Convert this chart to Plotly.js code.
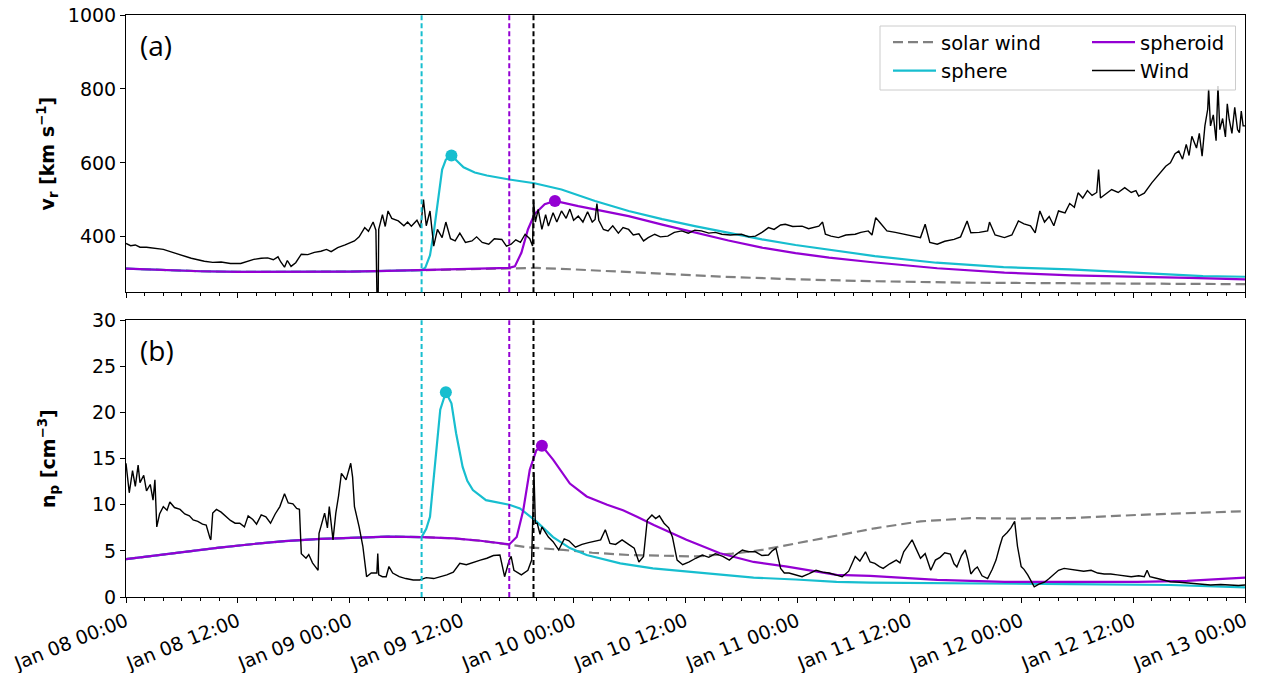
<!DOCTYPE html>
<html>
<head>
<meta charset="utf-8">
<script src="https://cdn.plot.ly/plotly-3.0.1.min.js"></script>
<style>html,body{margin:0;padding:0;background:#fff;}#chart{width:1268px;height:673px;}</style>
</head>
<body>
<div id="chart"></div>
<script>
// ---- hours after Jan 08 00:00 ----
var windVHours = [0,0.5,1,1.5,2.2,3,4,5,5.9,7,8.4,9.3,10.2,11.2,12.3,13,13.7,14.5,15.2,15.8,16.3,16.6,17,17.3,17.7,18.2,18.8,19.5,20.2,20.9,21.5,22,22.7,23.5,24.5,25,25.6,26,26.5,26.8,27.0,27.1,27.5,27.8,28.1,28.5,29.2,29.8,30.2,30.6,31.2,31.6,31.9,32.2,32.6,33.0,33.4,33.9,34.3,34.8,35.3,35.8,36.4,37.1,37.6,38.2,38.9,39.5,40.3,40.8,41.3,41.8,42.3,42.8,43.3,43.6,43.7,43.9,44.2,44.6,45.0,45.3,45.8,46.2,46.7,47.2,47.6,48.0,48.5,49.0,49.5,50.0,50.3,50.5,50.7,51.2,51.7,52.2,52.8,53.3,53.9,54.4,55.0,55.5,56.0,56.7,57.3,58.1,58.8,59.6,60.3,61.0,61.7,62.5,63.2,63.9,64.8,66.0,66.8,67.5,68.2,68.9,69.5,70.2,70.7,71.5,72.5,73.2,74.3,74.7,75.0,75.6,76.4,77.2,78.2,78.8,79.6,80.0,80.4,80.8,81.6,82.5,83.4,84.3,85.2,85.7,86.2,87.0,87.8,88.8,89.5,90.2,90.6,91.5,92.4,92.6,93.2,94.2,95.0,95.7,96.3,97.0,97.5,98.0,98.5,99.0,99.5,100.0,100.7,101.2,101.7,102.1,102.6,103.1,103.6,104.1,104.3,104.5,105.0,105.7,106.4,107.1,107.8,108.3,108.6,109.2,110.0,110.5,111.0,111.5,112.0,112.5,112.9,113.3,113.7,114.0,114.3,114.8,115.1,115.4,115.7,116.0,116.1,116.3,116.6,116.9,117.1,117.3,117.6,117.9,118.1,118.3,118.6,118.9,119.2,119.4,119.6,119.8,120];
var windV = [382,376,378,372,372,370,366,358,350,342,334,331,332,328,328,334,339,342,343,338,346,332,318,336,320,330,353,352,358,361,366,360,371,378,389,400,425,415,440,418,100,420,460,428,470,450,443,430,440,429,445,425,501,430,470,375,420,398,440,395,389,410,385,389,400,385,380,395,393,375,380,392,385,407,395,375,501,440,474,420,460,429,465,440,470,450,475,445,456,440,468,440,447,490,445,420,416,430,410,425,420,405,408,389,398,407,400,402,412,416,410,418,416,410,412,407,405,407,400,402,412,425,420,432,434,428,429,422,429,440,407,402,398,405,407,412,416,405,452,440,416,412,407,402,398,434,385,380,388,393,400,443,411,412,416,440,405,398,405,443,435,430,411,470,440,455,430,470,465,490,480,519,505,525,512,520,582,505,515,528,520,533,520,525,510,518,546,560,575,591,600,625,632,610,650,620,672,640,680,618,700,745,800,700,730,660,808,690,720,670,760,718,680,750,690,682,740,700,700];

var windNHours = [0,0.35,0.7,1.0,1.3,1.5,1.9,2.2,2.6,2.9,3.1,3.3,3.6,4.0,4.4,4.7,5.2,5.8,6.3,6.8,7.2,7.7,8.2,8.6,9.0,9.1,9.3,9.7,10.2,10.7,11.2,11.7,12.2,12.7,13.1,13.6,14.0,14.5,15.0,15.5,16.0,16.5,17.0,17.4,17.9,18.3,18.6,18.8,19.3,19.6,20.0,20.3,20.6,20.7,21.0,21.3,21.6,21.8,22.2,22.5,22.8,23.1,23.6,24.1,24.3,24.5,25.0,25.4,25.8,26.3,26.9,27.0,27.1,27.5,27.9,28.2,28.6,29.3,30.0,30.8,31.5,32.2,33.0,33.7,34.4,35.1,35.8,36.5,37.3,38.0,38.7,39.4,40.1,40.6,41.1,41.3,41.6,42.0,42.4,43.1,43.5,43.75,43.9,44.1,44.4,44.6,45.0,45.3,45.8,46.4,47.0,47.5,48.2,48.9,49.6,50.3,50.9,51.4,51.9,52.5,53.2,53.9,54.5,55.0,55.5,55.9,56.4,56.8,57.2,57.7,58.2,58.6,59.1,59.7,60.4,61.1,61.8,62.5,63.2,64.0,64.7,65.4,66.1,66.8,67.5,68.2,68.9,69.3,69.7,70.2,70.6,71.1,71.8,72.5,73.2,74.0,74.7,75.4,76.1,76.8,77.5,78.2,78.7,79.3,79.8,80.3,80.8,81.2,81.9,82.6,83.0,83.4,83.9,84.3,84.7,85.2,85.7,86.3,86.8,87.3,87.8,88.4,88.8,89.1,89.6,90.0,90.3,90.6,91.0,91.3,91.8,92.4,92.9,93.3,93.7,94.0,94.5,94.9,95.3,95.6,96.0,96.3,96.7,97.0,97.4,97.9,98.5,99.0,99.5,100.0,100.6,101.3,102.0,102.7,103.5,104.2,104.9,105.6,106.3,107.0,107.8,108.6,109.2,109.5,109.8,110.6,111.3,112.0,113.0,114.2,115.2,116.3,117.4,118.5,119.3,120];
var windN = [14.5,11.3,13.7,12.0,14.3,12.4,13.2,11.5,12.2,10.5,12.7,7.6,9.0,9.8,9.4,10.3,9.7,9.5,9.0,8.8,8.35,8.2,7.9,7.8,6.4,6.2,9.1,9.5,9.2,8.7,8.3,8.0,8.0,7.6,8.8,8.4,7.9,8.9,8.7,8.0,9.0,9.8,11.2,10.2,10.1,9.6,9.5,4.7,4.2,4.6,3.7,3.3,2.9,6.9,8.0,9.1,7.5,9.8,6.2,9.1,11.0,13.4,12.7,14.5,13.0,9.8,7.6,5.5,2.2,2.6,2.6,4.7,2.4,2.2,2.2,3.3,2.6,2.2,2.0,1.85,1.85,2.1,2.0,2.2,2.4,2.7,3.65,3.5,3.8,4.0,4.2,4.5,4.55,2.2,4.0,4.4,2.9,2.6,2.4,2.9,4.0,13.5,8.0,8.0,6.8,7.6,7.0,6.5,6.0,5.1,6.3,6.1,5.4,5.7,5.9,6.1,6.2,7.3,5.8,5.7,6.2,5.7,5.3,3.8,4.4,8.35,8.9,8.5,8.8,8.0,7.5,6.5,4.0,3.5,3.8,4.2,4.55,4.3,4.7,4.4,4.0,4.6,5.1,4.9,4.9,4.5,4.55,5.0,5.3,3.1,2.6,2.6,2.4,2.2,2.5,2.9,2.7,2.6,2.4,2.2,2.8,4.4,3.9,4.9,3.8,3.65,3.3,3.1,3.6,4.0,3.7,4.9,5.6,6.2,5.3,4.2,4.7,2.9,4.0,4.3,4.8,4.65,3.6,3.25,4.5,5.1,4.0,2.5,3.0,3.25,2.3,2.0,3.0,4.0,5.5,6.5,7.0,7.5,8.2,5.5,3.3,3.0,2.4,1.8,1.1,1.4,1.6,2.0,2.5,2.9,3.1,3.0,2.9,2.8,2.9,2.6,2.5,2.5,2.4,2.3,2.2,2.3,2.2,2.9,2.2,2.0,1.8,1.65,1.6,1.5,1.4,1.3,1.35,1.3,1.25,1.3];

// solar wind background
var swVHours = [0,4,8,12,16,20,24,28,31.7,36,41.1,44,48,56,64,72,80,90,100,110,120];
var swV = [314,310,307,305,305,305,306,308,310,313,316,316,312,302,292,285,280,276,274,273,272];
var swNHours = [0,3,6.6,10,13.7,17,20.9,24.5,28.1,31.7,35.2,38,41.1,43,46.9,50,54,61.1,65,68.2,71.8,75.4,80.3,85.2,90.6,95.3,101.3,108.5,115,120];
var swN = [4.1,4.5,4.9,5.35,5.75,6.05,6.3,6.45,6.55,6.5,6.35,6.1,5.7,5.4,5.1,4.8,4.55,4.4,4.7,5.1,5.8,6.5,7.45,8.2,8.55,8.5,8.55,8.9,9.15,9.3];

// sphere model
var sphVHours = [0,4,8,12,16,20,24,28,31.7,32.1,32.6,33.0,33.4,33.9,34.3,34.9,35.5,36.2,37.4,38.7,41.1,43.8,46.7,50.3,53.9,57.5,61.0,64.6,68.2,71.8,75.3,80.3,86.9,94.1,101.2,108.4,115.5,120];
var sphV = [314,310,307,305,305,305,306,308,310,317,350,411,490,582,609,620,605,588,574,566,555,545,528,497,470,448,429,410,393,378,366,348,330,318,312,303,294,292];
var sphNHours = [0,3,6.6,10,13.7,17,20.9,24.5,28.1,31.7,32.2,32.6,33.1,33.7,34.3,34.9,35.4,36.1,36.6,37.2,38.6,40.0,41.1,42.25,44.0,45.8,47.6,49.4,53.0,56.5,60.1,63.7,67.3,71.8,76.2,79.8,90.6,101.3,112,120];
var sphN = [4.1,4.5,4.9,5.35,5.75,6.05,6.3,6.45,6.55,6.5,7.4,8.7,14.1,20.3,22.2,21.0,17.75,14.1,12.6,11.6,10.5,10.2,10.0,9.6,8.2,6.5,5.3,4.55,3.65,3.1,2.75,2.4,2.1,1.9,1.65,1.55,1.5,1.4,1.3,1.05];

// spheroid model
var sprVHours = [0,4,8,12,16,20,24,28,31.7,36,41.1,41.7,42.4,43.1,43.8,44.9,46.0,48.5,51.2,53.9,57.5,61.0,64.6,68.2,71.8,75.4,79.8,87.0,94.2,101.4,108.6,114,120];
var sprV = [314,310,307,305,305,305,306,308,310,313,316,320,357,420,461,488,497,483,470,456,433,411,390,371,356,344,332,315,303,296,293,289,285];
var sprNHours = [0,3,6.6,10,13.7,17,20.9,24.5,28.1,31.7,35.2,38,41.1,41.9,42.6,43.3,44.0,44.6,45.8,47.6,49.4,51.6,53.3,54.8,56.6,60.1,63.7,67.3,70.9,76.2,79.8,87,94.2,101.3,108.5,113.8,120];
var sprN = [4.1,4.5,4.9,5.35,5.75,6.05,6.3,6.45,6.55,6.5,6.35,6.1,5.7,6.5,9.4,13.8,15.9,16.4,14.9,12.3,10.9,10.0,9.4,8.7,7.8,6.2,4.75,3.8,3.3,2.4,2.3,1.85,1.65,1.65,1.65,1.75,2.1];

// peak markers
var sphPeakHours = [34.9, 34.3];   // [v panel, n panel]
var sphPeakVals = [620, 22.2];
var sprPeakHours = [46.0, 44.6];
var sprPeakVals = [497, 16.4];

// arrival lines
var arrivalHours = [31.7, 41.1, 43.7];
var arrivalColors = ['#17becf', '#9400d3', '#000000'];

var tickLabelFont = {family: 'DejaVu Sans', size: 19, color: '#000'};

var base = Date.UTC(2023, 0, 8);
function toDate(h) {
  return new Date(base + h * 3600e3).toISOString().replace('T', ' ').replace('Z', '');
}
function dates(arr) { return arr.map(toDate); }

var CYAN = '#17becf', PURPLE = '#9400d3', GRAY = '#808080';

var traces = [
  // top panel
  {x: dates(swVHours), y: swV, xaxis: 'x2', yaxis: 'y2', mode: 'lines', name: 'solar wind',
   line: {color: GRAY, width: 2.2, dash: '10px,5px'}, legend: 'legend', legendrank: 1},
  {x: dates(sphVHours), y: sphV, xaxis: 'x2', yaxis: 'y2', mode: 'lines', name: 'sphere',
   line: {color: CYAN, width: 2.2}, legend: 'legend', legendrank: 2},
  {x: dates(sprVHours), y: sprV, xaxis: 'x2', yaxis: 'y2', mode: 'lines', name: 'spheroid',
   line: {color: PURPLE, width: 2.2}, legend: 'legend2', legendrank: 3},
  {x: dates(windVHours), y: windV, xaxis: 'x2', yaxis: 'y2', mode: 'lines', name: 'Wind',
   line: {color: '#000', width: 1.4}, legend: 'legend2', legendrank: 4},
  {x: [toDate(sphPeakHours[0])], y: [sphPeakVals[0]], xaxis: 'x2', yaxis: 'y2', mode: 'markers',
   marker: {color: CYAN, size: 12}, showlegend: false},
  {x: [toDate(sprPeakHours[0])], y: [sprPeakVals[0]], xaxis: 'x2', yaxis: 'y2', mode: 'markers',
   marker: {color: PURPLE, size: 12}, showlegend: false},
  // bottom panel
  {x: dates(swNHours), y: swN, xaxis: 'x', yaxis: 'y', mode: 'lines', showlegend: false,
   line: {color: GRAY, width: 2.2, dash: '10px,5px'}},
  {x: dates(sphNHours), y: sphN, xaxis: 'x', yaxis: 'y', mode: 'lines', showlegend: false,
   line: {color: CYAN, width: 2.2}},
  {x: dates(sprNHours), y: sprN, xaxis: 'x', yaxis: 'y', mode: 'lines', showlegend: false,
   line: {color: PURPLE, width: 2.2}},
  {x: dates(windNHours), y: windN, xaxis: 'x', yaxis: 'y', mode: 'lines', showlegend: false,
   line: {color: '#000', width: 1.4}},
  {x: [toDate(sphPeakHours[1])], y: [sphPeakVals[1]], xaxis: 'x', yaxis: 'y', mode: 'markers',
   marker: {color: CYAN, size: 12}, showlegend: false},
  {x: [toDate(sprPeakHours[1])], y: [sprPeakVals[1]], xaxis: 'x', yaxis: 'y', mode: 'markers',
   marker: {color: PURPLE, size: 12}, showlegend: false}
];

var shapes = [];
arrivalHours.forEach(function (h, i) {
  ['y domain', 'y2 domain'].forEach(function (yr, j) {
    shapes.push({type: 'line', xref: j === 0 ? 'x' : 'x2', yref: yr, x0: toDate(h), x1: toDate(h),
      y0: 0, y1: 1, line: {color: arrivalColors[i], width: 2, dash: '5px,3px'}, layer: 'above'});
  });
});
// legend frame
shapes.push({type: 'rect', xref: 'paper', yref: 'paper',
  x0: (880 - 126) / 1119, x1: (1235.5 - 126) / 1119, y0: (597 - 90) / 582, y1: (597 - 26) / 582,
  line: {color: '#cccccc', width: 1}, fillcolor: 'rgba(255,255,255,0.8)', layer: 'above'});

var xcommon = {
  type: 'date', range: [toDate(0), toDate(120)], tick0: toDate(0), dtick: 12 * 3600e3,
  tickformat: '%b %d %H:%M', ticks: 'outside', ticklen: 5, tickwidth: 1, tickcolor: '#000',
  showline: true, linecolor: '#000', linewidth: 1, mirror: true, showgrid: false, zeroline: false,
  minor: {dtick: 2 * 3600e3, ticks: 'outside', ticklen: 3, tickcolor: '#000', showgrid: false},
  tickfont: tickLabelFont, tickangle: -22
};
var ycommon = {
  ticks: 'outside', ticklen: 5, tickwidth: 1, tickcolor: '#000', showline: true, linecolor: '#000',
  linewidth: 1, mirror: true, showgrid: false, zeroline: false, tickfont: tickLabelFont
};

var legendFont = {family: 'DejaVu Sans', size: 19.5, color: '#000'};

var layout = {
  width: 1268, height: 673,
  margin: {l: 126, r: 23, t: 15, b: 76},
  paper_bgcolor: '#fff', plot_bgcolor: '#fff',
  font: {family: 'DejaVu Sans', color: '#000'},
  showlegend: true,
  xaxis: Object.assign({}, xcommon, {anchor: 'y', domain: [0, 1]}),
  xaxis2: Object.assign({}, xcommon, {anchor: 'y2', domain: [0, 1], matches: 'x', showticklabels: false}),
  yaxis: Object.assign({}, ycommon, {anchor: 'x', domain: [0, (597 - 320.3) / 582], range: [0, 30],
    tick0: 0, dtick: 5,
    title: {text: '<b>n<sub>p</sub> [cm<sup>−3</sup>]</b>', font: {family: 'DejaVu Sans', size: 19, color: '#000'}, standoff: 31}}),
  yaxis2: Object.assign({}, ycommon, {anchor: 'x2', domain: [(597 - 292.3) / 582, 1], range: [250, 1000],
    tick0: 0, dtick: 200,
    title: {text: '<b>v<sub>r</sub> [km s<sup>−1</sup>]</b>', font: {family: 'DejaVu Sans', size: 19, color: '#000'}, standoff: 8}}),
  legend: {x: (888 - 126) / 1119, y: (597 - 23) / 582, xanchor: 'left', yanchor: 'top',
    bgcolor: 'rgba(0,0,0,0)', borderwidth: 0, font: legendFont,
    itemwidth: 43, traceorder: 'normal'},
  legend2: {x: (1087 - 126) / 1119, y: (597 - 23) / 582, xanchor: 'left', yanchor: 'top',
    bgcolor: 'rgba(0,0,0,0)', borderwidth: 0, font: legendFont,
    itemwidth: 43, traceorder: 'normal'},
  shapes: shapes,
  annotations: [
    {text: '(a)', xref: 'x2 domain', yref: 'y2 domain', x: 0.0107, y: 0.893, xanchor: 'left', yanchor: 'middle',
     showarrow: false, font: {family: 'Open Sans', size: 28, color: '#000'}},
    {text: '(b)', xref: 'x domain', yref: 'y domain', x: 0.0107, y: 0.893, xanchor: 'left', yanchor: 'middle',
     showarrow: false, font: {family: 'Open Sans', size: 28, color: '#000'}}
  ]
};

Plotly.newPlot('chart', traces, layout, {staticPlot: true, displayModeBar: false});
</script>
</body>
</html>
